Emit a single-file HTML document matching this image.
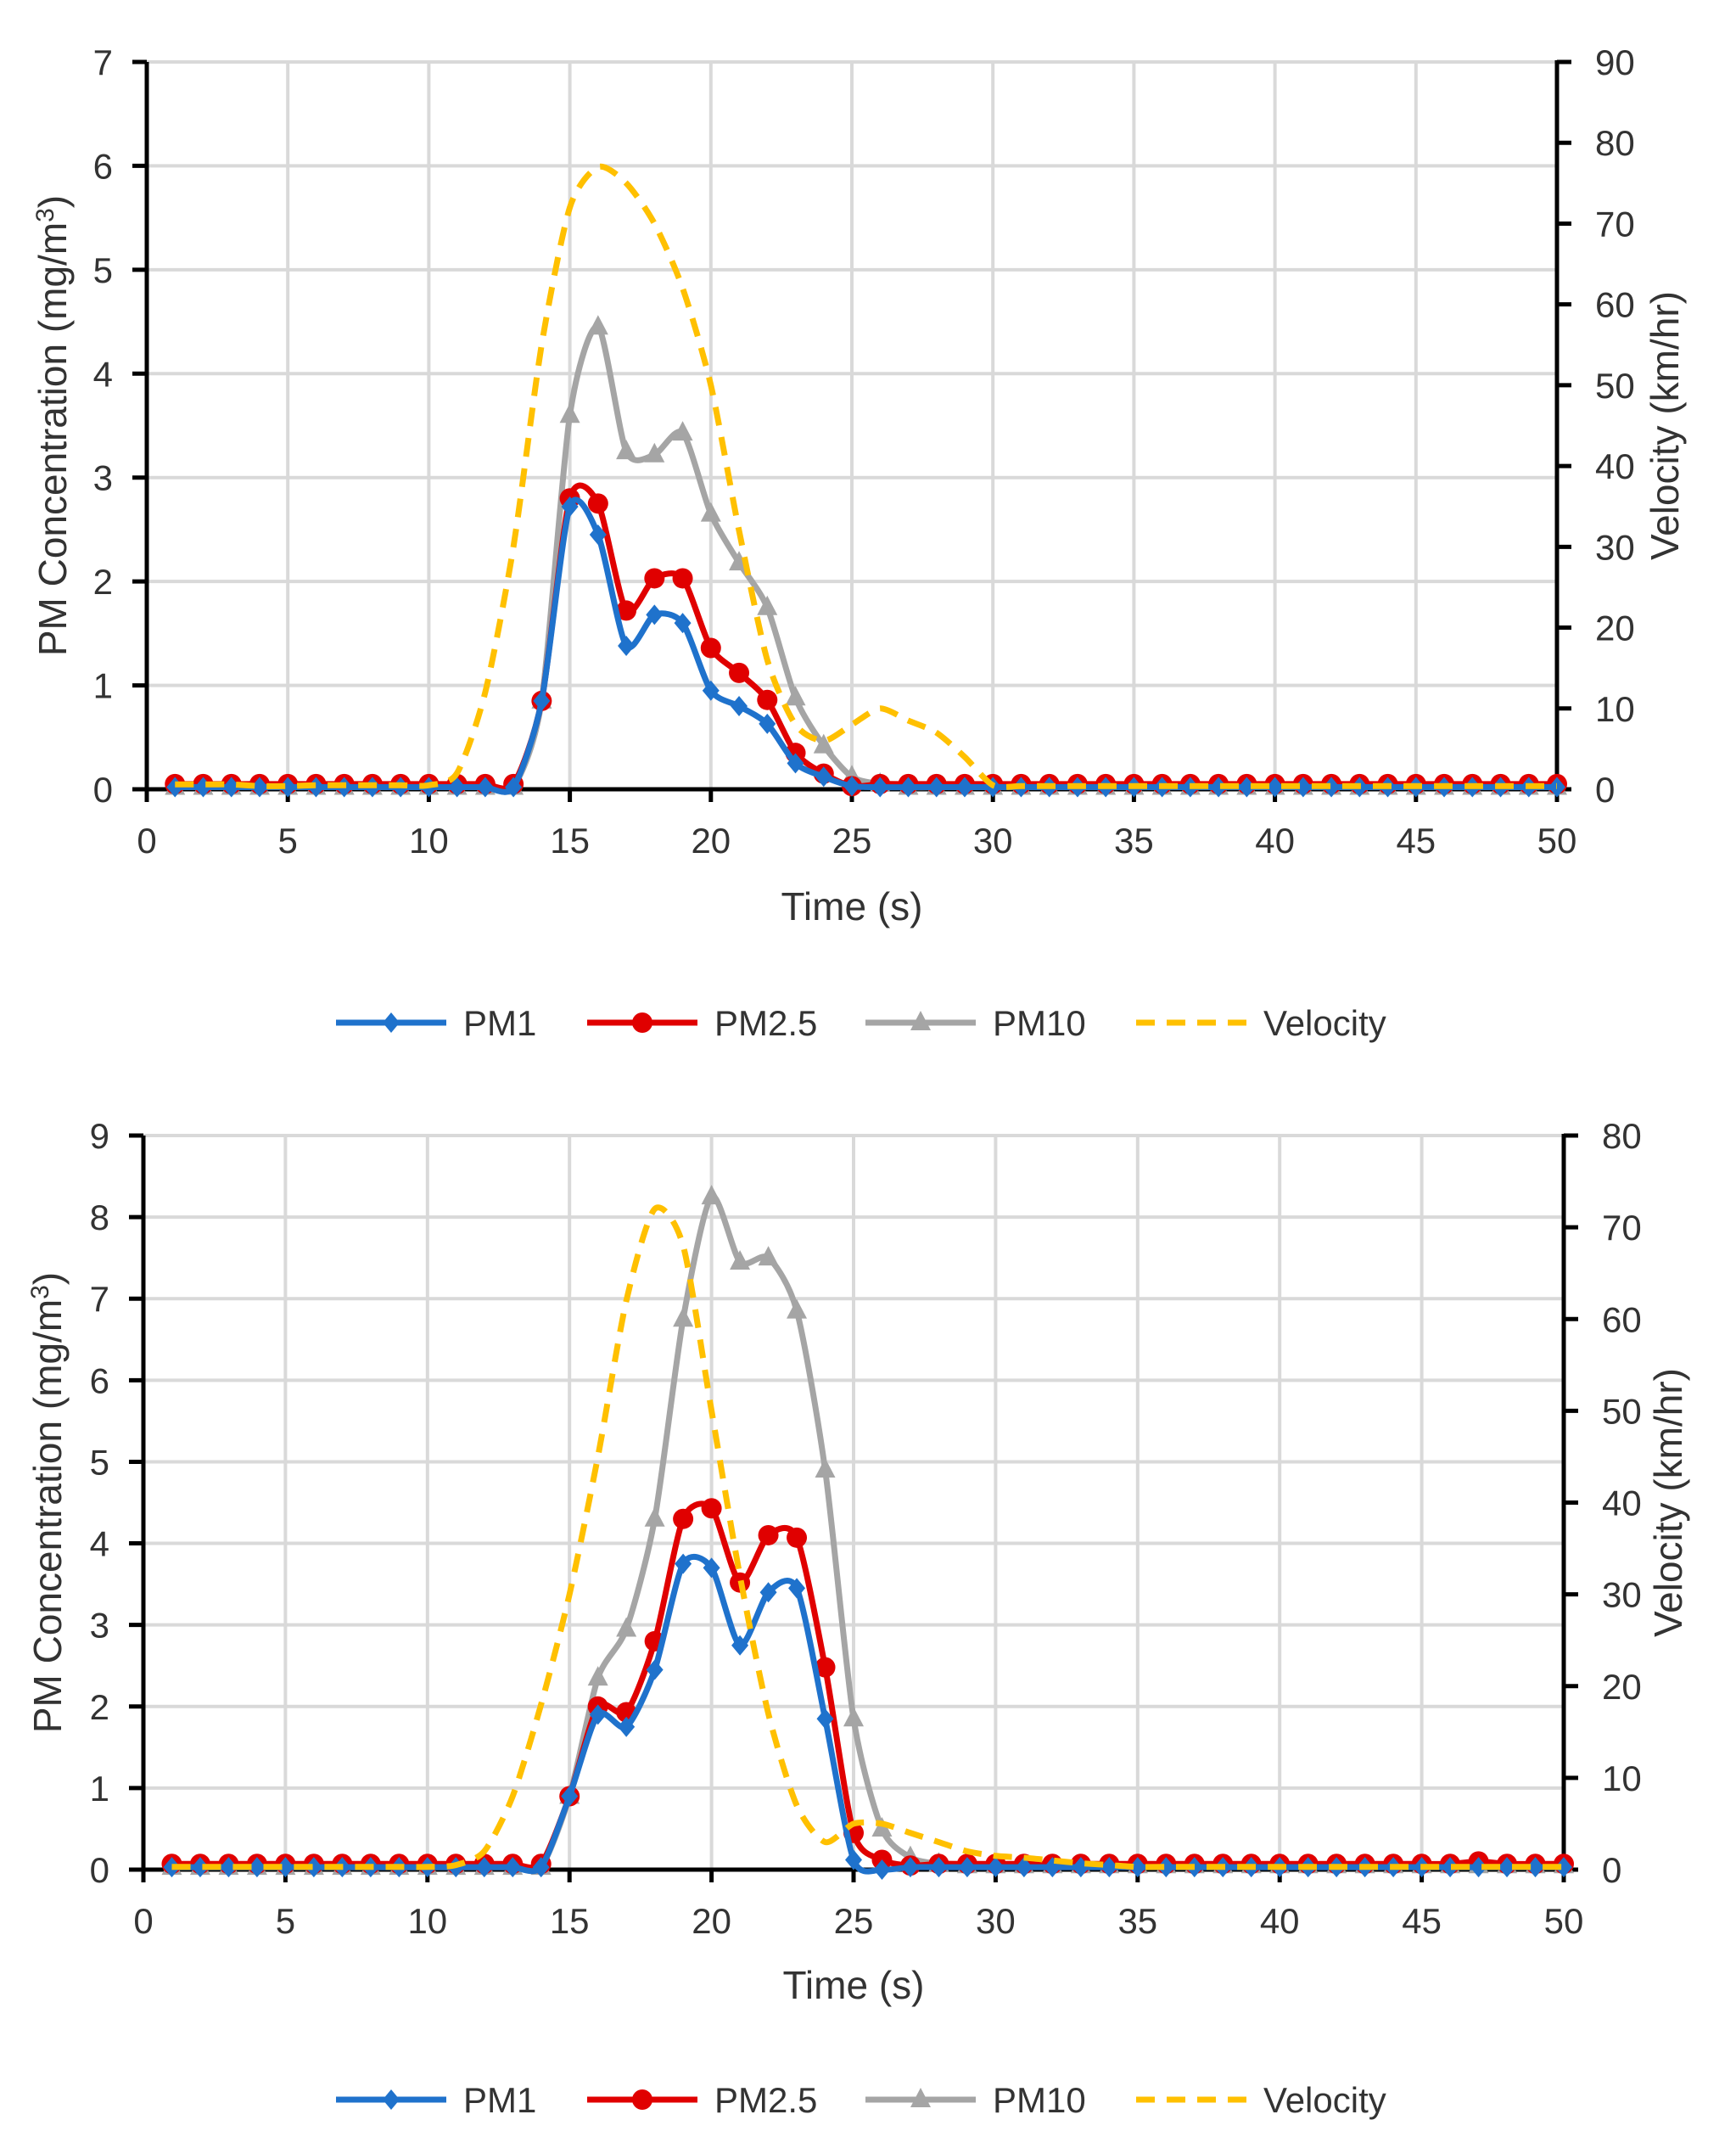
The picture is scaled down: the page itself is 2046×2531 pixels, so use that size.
<!DOCTYPE html>
<html><head><meta charset="utf-8"><style>
html,body{margin:0;padding:0;background:#fff;}
svg{display:block;font-family:"Liberation Sans",sans-serif;}
</style></head><body>
<svg id="svg" width="2046" height="2531" viewBox="0 0 2046 2531" xmlns="http://www.w3.org/2000/svg"></svg>
<script>
const times = Array.from({length:50},(_,i)=>i+1);
// Chart 1 data
const c1_pm1 = [0.02,0.02,0.02,0.02,0.02,0.02,0.02,0.02,0.02,0.02,0.02,0.02,0.02,0.85,2.72,2.45,1.38,1.68,1.6,0.95,0.8,0.63,0.25,0.12,0.03,0.02,0.02,0.02,0.02,0.02,0.02,0.02,0.02,0.02,0.02,0.02,0.02,0.02,0.02,0.02,0.02,0.02,0.02,0.02,0.02,0.02,0.02,0.02,0.02,0.02];
const c1_pm25 = [0.05,0.05,0.05,0.05,0.05,0.05,0.05,0.05,0.05,0.05,0.05,0.05,0.05,0.85,2.8,2.75,1.72,2.03,2.03,1.36,1.12,0.86,0.35,0.15,0.03,0.05,0.05,0.05,0.05,0.05,0.05,0.05,0.05,0.05,0.05,0.05,0.05,0.05,0.05,0.05,0.05,0.05,0.05,0.05,0.05,0.05,0.05,0.05,0.05,0.05];
const c1_pm10 = [0.02,0.02,0.02,0.02,0.02,0.02,0.02,0.02,0.02,0.02,0.02,0.02,0.02,0.85,3.6,4.45,3.25,3.22,3.43,2.65,2.18,1.75,0.88,0.42,0.12,0.05,0.02,0.02,0.02,0.02,0.02,0.02,0.02,0.02,0.02,0.02,0.02,0.02,0.02,0.02,0.02,0.02,0.02,0.02,0.02,0.02,0.02,0.02,0.02,0.02];
const c1_vel = [0.6,0.6,0.6,0.4,0.4,0.5,0.5,0.5,0.5,0.5,2,12,30,55,72,77,75,70,62,50,32,16,8,6,8,10,8.5,7,4,0.5,0.4,0.4,0.4,0.4,0.4,0.4,0.4,0.4,0.4,0.4,0.4,0.4,0.4,0.4,0.4,0.4,0.4,0.4,0.4,0.4];
// Chart 2 data
const c2_pm1 = [0.03,0.03,0.03,0.03,0.03,0.03,0.03,0.03,0.03,0.03,0.03,0.03,0.03,0.03,0.9,1.9,1.75,2.45,3.75,3.7,2.75,3.4,3.45,1.85,0.12,0,0.03,0.03,0.03,0.03,0.03,0.03,0.03,0.03,0.03,0.03,0.03,0.03,0.03,0.03,0.03,0.03,0.03,0.03,0.03,0.03,0.03,0.03,0.03,0.03];
const c2_pm25 = [0.07,0.07,0.07,0.07,0.07,0.07,0.07,0.07,0.07,0.07,0.07,0.07,0.07,0.07,0.9,2.0,1.93,2.8,4.3,4.43,3.52,4.1,4.07,2.48,0.45,0.12,0.05,0.07,0.07,0.07,0.07,0.07,0.07,0.07,0.07,0.07,0.07,0.07,0.07,0.07,0.07,0.07,0.07,0.07,0.07,0.07,0.1,0.07,0.07,0.07];
const c2_pm10 = [0.03,0.03,0.03,0.03,0.03,0.03,0.03,0.03,0.03,0.03,0.03,0.03,0.03,0.03,0.9,2.35,2.95,4.3,6.75,8.25,7.45,7.5,6.85,4.9,1.85,0.5,0.15,0.07,0.05,0.05,0.05,0.05,0.05,0.05,0.05,0.05,0.05,0.05,0.05,0.05,0.05,0.05,0.05,0.05,0.05,0.05,0.05,0.05,0.05,0.05];
const c2_vel = [0.3,0.3,0.3,0.3,0.3,0.3,0.3,0.3,0.3,0.3,0.5,2,8,18,30,45,62,72,68,50,32,17,7,3,5,5,4,3,2,1.5,1.3,1,0.7,0.5,0.3,0.3,0.3,0.3,0.3,0.3,0.3,0.3,0.3,0.3,0.3,0.3,0.3,0.3,0.3,0.3];
const xTicks = [0,5,10,15,20,25,30,35,40,45,50];
const legendLabels = ["PM1","PM2.5","PM10","Velocity"];

const NS="http://www.w3.org/2000/svg";
const svg=document.getElementById('svg');
function el(tag,attrs,parent){const e=document.createElementNS(NS,tag);for(const k in attrs)e.setAttribute(k,attrs[k]);(parent||svg).appendChild(e);return e;}
function smooth(pts){let d=`M${pts[0][0]},${pts[0][1]}`;for(let i=0;i<pts.length-1;i++){const p0=pts[i-1]||pts[i],p1=pts[i],p2=pts[i+1],p3=pts[i+2]||p2;const t=8;d+=` C${p1[0]+(p2[0]-p0[0])/t},${p1[1]+(p2[1]-p0[1])/t} ${p2[0]-(p3[0]-p1[0])/t},${p2[1]-(p3[1]-p1[1])/t} ${p2[0]},${p2[1]}`;}return d;}

function chart(cfg){
  const g=el('g',{});
  
  
  const X=v=>cfg.L+(cfg.R-cfg.L)*v/50;
  const Y=v=>cfg.B-(cfg.B-cfg.T)*v/cfg.ymax;
  const V=v=>cfg.B-(cfg.B-cfg.T)*v/cfg.vmax;
  for(let v=1;v<=cfg.ymax;v++){const l=el('line',{x1:cfg.L,x2:cfg.R,y1:Y(v),y2:Y(v),stroke:'#d9d9d9','stroke-width':4},g);}
  xTicks.forEach(t=>{if(t>0&&t<50){const l=el('line',{x1:X(t),x2:X(t),y1:cfg.T,y2:cfg.B,stroke:'#d9d9d9','stroke-width':4},g);}});
  const ax=el('g',{stroke:'#000','stroke-width':5},g);
  
  el('line',{x1:cfg.L,x2:cfg.L,y1:cfg.T,y2:cfg.B+15},ax);
  el('line',{x1:cfg.R,x2:cfg.R,y1:cfg.T-2,y2:cfg.B+15},ax);
  el('line',{x1:cfg.L-17,x2:cfg.R,y1:cfg.B,y2:cfg.B},ax);
  for(let v=0;v<=cfg.ymax;v++)el('line',{x1:cfg.L-17,x2:cfg.L,y1:Y(v),y2:Y(v)},ax);
  for(let v=0;v<=cfg.vmax;v+=10)el('line',{x1:cfg.R,x2:cfg.R+17,y1:V(v),y2:V(v)},ax);
  xTicks.forEach(t=>el('line',{x1:X(t),x2:X(t),y1:cfg.B,y2:cfg.B+15},ax));
  for(let v=0;v<=cfg.ymax;v++){const t=el('text',{x:cfg.L-40,y:Y(v)+15,'text-anchor':'end','font-size':42,fill:'#333'},g);t.textContent=v;}
  for(let v=0;v<=cfg.vmax;v+=10){const t=el('text',{x:cfg.R+45,y:V(v)+15,'font-size':42,fill:'#333'},g);t.textContent=v;}
  xTicks.forEach(v=>{const t=el('text',{x:X(v),y:cfg.B+75,'text-anchor':'middle','font-size':42,fill:'#333'},g);t.textContent=v;});
  const xt=el('text',{x:(cfg.L+cfg.R)/2,y:cfg.xtY,'text-anchor':'middle','font-size':46,fill:'#333'},g);xt.textContent='Time (s)';
  
  const yt=el('text',{transform:`translate(${cfg.ytX},${(cfg.T+cfg.B)/2}) rotate(-90)`,'text-anchor':'middle','font-size':46,fill:'#333'},g);
  yt.innerHTML='PM Concentration (mg/m<tspan dy="-15" font-size="30">3</tspan><tspan dy="15">)</tspan>';
  
  const vt=el('text',{transform:`translate(${cfg.vtX},${(cfg.T+cfg.B)/2}) rotate(-90)`,'text-anchor':'middle','font-size':46,fill:'#333'},g);vt.textContent='Velocity (km/hr)';
  
  const series=[
    {data:cfg.vel,sc:V,color:'#FFC000',dash:'22 14',marker:null,name:'velocity-line'},
    {data:cfg.pm10,sc:Y,color:'#A5A5A5',marker:'tri',name:'pm10-line'},
    {data:cfg.pm25,sc:Y,color:'#E00000',marker:'circ',name:'pm25-line'},
    {data:cfg.pm1,sc:Y,color:'#1F72CC',marker:'dia',name:'pm1-line'}];
  [1,2,3,0].forEach(i=>{const s=series[i];
    const pts=times.map((t,j)=>[X(t),s.sc(s.data[j])]);
    const sg=el('g',{},g);
    el('path',{d:smooth(pts),fill:'none',stroke:s.color,'stroke-width':7,'stroke-dasharray':s.dash||'none','stroke-linejoin':'round'},sg);
    pts.forEach(p=>{let m;
      if(s.marker==='circ')m=el('circle',{cx:p[0],cy:p[1],r:12,fill:s.color},sg);
      else if(s.marker==='tri')m=el('path',{d:`M${p[0]},${p[1]-14} L${p[0]+12},${p[1]+9} L${p[0]-12},${p[1]+9}Z`,fill:s.color},sg);
      else if(s.marker==='dia')m=el('path',{d:`M${p[0]},${p[1]-12} L${p[0]+10},${p[1]} L${p[0]},${p[1]+12} L${p[0]-10},${p[1]}Z`,fill:s.color},sg);
      if(m){}
    });
  });
  const lg=el('g',{},g);
  const lx=[396,692,1020,1339];const cols=['#1F72CC','#E00000','#A5A5A5','#FFC000'];const mk=['dia','circ','tri',null];
  legendLabels.forEach((lab,i)=>{const eg=el('g',{},lg);
    const y=cfg.legY,x=lx[i];
    el('line',{x1:x,x2:x+130,y1:y,y2:y,stroke:cols[i],'stroke-width':7,'stroke-dasharray':mk[i]?'none':'22 14'},eg);
    const cx=x+65;
    if(mk[i]==='circ')el('circle',{cx:cx,cy:y,r:12,fill:cols[i]},eg);
    if(mk[i]==='tri')el('path',{d:`M${cx},${y-14} L${cx+12},${y+9} L${cx-12},${y+9}Z`,fill:cols[i]},eg);
    if(mk[i]==='dia')el('path',{d:`M${cx},${y-12} L${cx+10},${y} L${cx},${y+12} L${cx-10},${y}Z`,fill:cols[i]},eg);
    const t=el('text',{x:x+150,y:y+15,'font-size':42,fill:'#333'},eg);t.textContent=lab;});
}
chart({name:'chart-top',L:173,R:1835,T:73,B:930,ymax:7,vmax:90,pm1:c1_pm1,pm25:c1_pm25,pm10:c1_pm10,vel:c1_vel,xtY:1084,ytX:78,vtX:1978,legY:1205});
chart({name:'chart-bottom',L:169,R:1843,T:1338,B:2203,ymax:9,vmax:80,pm1:c2_pm1,pm25:c2_pm25,pm10:c2_pm10,vel:c2_vel,xtY:2355,ytX:72,vtX:1982,legY:2474});
</script>
</body></html>
